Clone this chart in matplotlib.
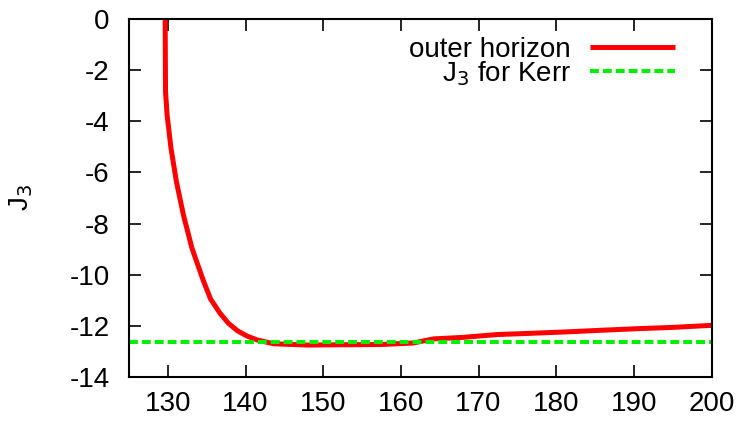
import matplotlib
matplotlib.use("Agg")
import matplotlib.pyplot as plt

plt.rcParams["font.family"] = ["Liberation Sans", "DejaVu Sans"]
plt.rcParams["axes.unicode_minus"] = False

# outer horizon J_3 curve
t_outer = [129.65, 129.7, 129.9, 130.4, 131.1, 132.0, 133.1, 134.6, 135.5,
           136.7, 137.8, 139.0, 140.2, 141.5, 143.6, 147.9, 152.0, 157.4,
           161.6, 164.2, 168.0, 172.4, 176.0, 181.0, 186.0, 190.5, 195.0, 200.0]
j3_outer = [0.0, -2.84, -3.75, -5.05, -6.36, -7.66, -8.96, -10.26, -10.95,
            -11.5, -11.9, -12.2, -12.4, -12.55, -12.7, -12.75, -12.74, -12.73,
            -12.67, -12.51, -12.45, -12.34, -12.3, -12.24, -12.17, -12.11,
            -12.06, -11.98]

j3_kerr = -12.64
xlim = (125, 200)
ylim = (-14, 0)
xticks = [130, 140, 150, 160, 170, 180, 190, 200]
yticks = [0, -2, -4, -6, -8, -10, -12, -14]

FS = 20

fig = plt.figure(figsize=(7.42, 4.21), dpi=100)
ax = fig.add_axes([0.1739, 0.1045, 0.785, 0.8504])

ax.plot(t_outer, j3_outer, color="#ff0000", lw=3.6, label="outer horizon",
        solid_capstyle="butt")
ax.axhline(j3_kerr, color="#00ee00", lw=2.9, ls=(0, (2.2, 1.0)),
           label=r"J$_3$ for Kerr")

ax.set_xlim(*xlim)
ax.set_ylim(*ylim)
ax.set_xticks(xticks)
ax.set_yticks(yticks)
ax.tick_params(direction="in", length=8.6, width=1.2, labelsize=FS,
               top=True, right=True)
ax.tick_params(axis="x", pad=10)
ax.tick_params(axis="y", pad=14)
for s in ax.spines.values():
    s.set_linewidth(1.5)
ax.set_ylabel(r"J$_3$", fontsize=FS, labelpad=25)

leg = ax.legend(loc="upper right", bbox_to_anchor=(0.988, 1.034), frameon=False,
                markerfirst=False, fontsize=FS, handlelength=3.06,
                handletextpad=0.68, labelspacing=-0.14, borderaxespad=0.88,
                borderpad=0.2)
for t in leg.get_texts():
    t.set_ha("right")

fig.savefig("out.png", dpi=100)
